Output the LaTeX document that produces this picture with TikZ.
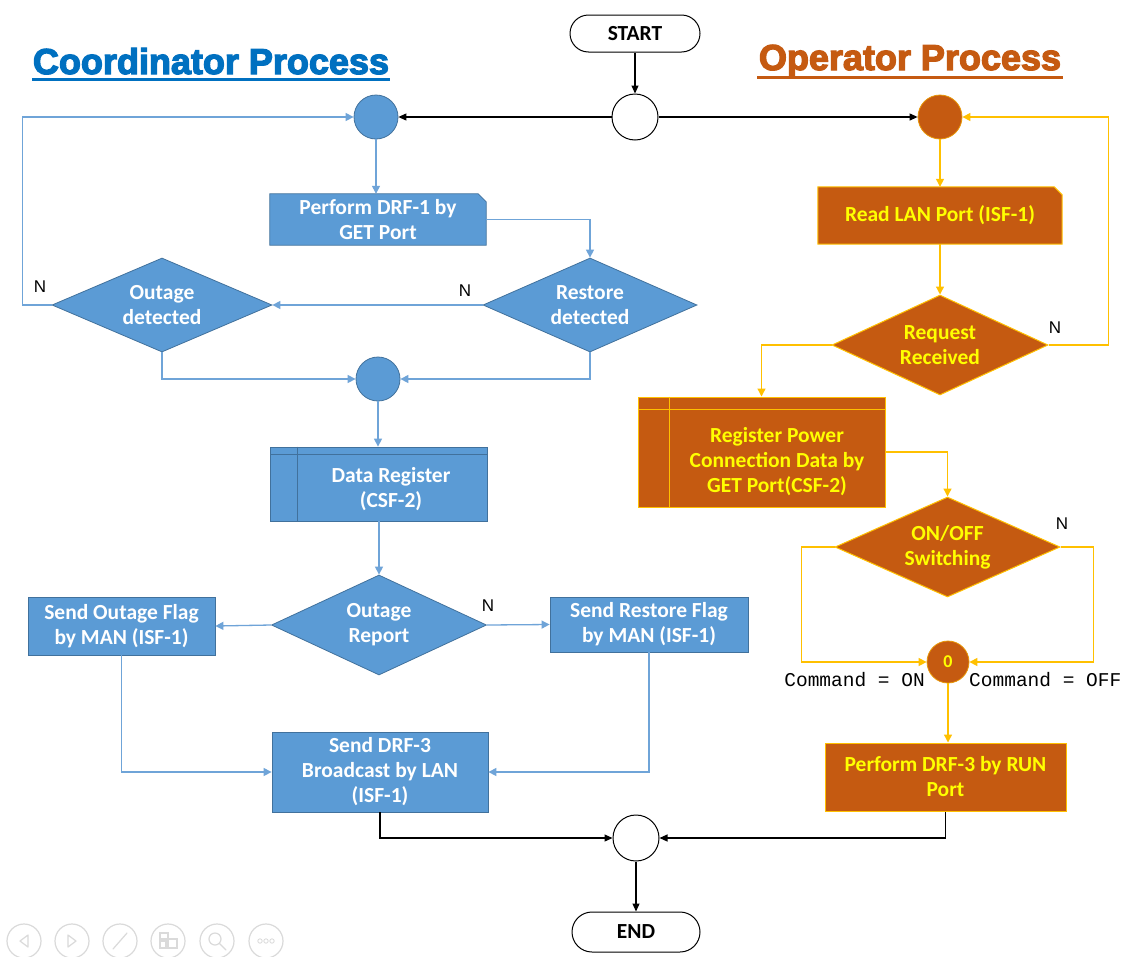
\documentclass[tikz,border=0pt]{standalone}
\usepackage{fontspec}
\setmainfont{Carlito}
\newfontfamily\titlefont[BoldFeatures={FakeBold=3.5}]{Liberation Sans}
\newfontfamily\labelfont{Liberation Sans}
\newfontfamily\codefont{Liberation Mono}
\usetikzlibrary{arrows.meta,shapes.geometric,shapes.misc,backgrounds}

\definecolor{cblue}{HTML}{5B9BD5}
\definecolor{cblueline}{HTML}{41719C}
\definecolor{cbluearrow}{HTML}{6FA4D8}
\definecolor{corange}{HTML}{C55A11}
\definecolor{cgold}{HTML}{FFC000}
\definecolor{cyellow}{HTML}{FFFF00}
\definecolor{ctitleblue}{HTML}{0070C0}
\definecolor{ctitleorange}{HTML}{C55A11}
\definecolor{ciconline}{HTML}{DADADA}

\tikzset{
  boxfont/.style={font=\bfseries\fontsize{21.5}{25}\selectfont, align=center},
  bproc/.style={boxfont, fill=cblue, draw=cblueline, line width=0.8pt, text=white, inner sep=0pt},
  bsnip/.style={boxfont, text=white, inner sep=0pt},
  bdia/.style={boxfont, diamond, aspect=2.2, fill=cblue, draw=cblueline, line width=0.8pt, text=white, inner sep=0pt},
  bdot/.style={circle, fill=cblue, draw=cblueline, line width=0.8pt, minimum size=44pt, inner sep=0pt},
  oproc/.style={boxfont, fill=corange, draw=cgold, line width=1pt, text=cyellow, inner sep=0pt},
  osnip/.style={boxfont, text=cyellow, inner sep=0pt},
  odia/.style={boxfont, diamond, aspect=2.2, fill=corange, draw=cgold, line width=1pt, text=cyellow, inner sep=0pt},
  odot/.style={circle, fill=corange, draw=cgold!60!corange, line width=0.8pt, minimum size=44pt, inner sep=0pt},
  wdot/.style={circle, fill=white, draw=black, line width=1pt, minimum size=46pt, inner sep=0pt},
  term/.style={rounded rectangle, draw=black, line width=1pt, fill=white, font=\bfseries\fontsize{21.5}{25}\selectfont, inner sep=0pt},
  bline/.style={draw=cbluearrow, line width=1.3pt, -{Triangle[length=8pt,width=8pt]}},
  oline/.style={draw=cgold, line width=1.3pt, -{Triangle[length=8pt,width=8pt]}},
  kline/.style={draw=black, line width=1.1pt, -{Triangle[length=8pt,width=7pt]}},
  nlabel/.style={font=\labelfont\fontsize{17}{20}\selectfont, inner sep=0pt},
  cmdlabel/.style={font=\codefont\fontsize{19.5}{22}\selectfont, inner sep=0pt},
  icon/.style={draw=ciconline, line width=1.2pt},
}

\begin{document}
\begin{tikzpicture}[x=1pt,y=-1pt]
\useasboundingbox (0,0) rectangle (1126,956);
\begin{scope}[on background layer]
  \fill[white] (0,0) rectangle (1126,956);
\end{scope}

% ---------- titles ----------
\node[font=\titlefont\bfseries\fontsize{36}{40}\selectfont, text=ctitleblue, anchor=base, inner sep=0pt] (ctitle) at (211,74) {Coordinator Process};
\draw[ctitleblue, line width=3pt] (32,79.5) -- (390,79.5);
\node[font=\titlefont\bfseries\fontsize{36}{40}\selectfont, text=ctitleorange, anchor=base, inner sep=0pt] (otitle) at (910,70) {Operator Process};
\draw[ctitleorange, line width=3pt] (757,77.5) -- (1063,77.5);

% ---------- start / end ----------
\node[term, minimum width=130pt, minimum height=37pt] (start) at (635,33.5) {START};
\node[wdot] (startc) at (635,117) {};
\node[wdot] (endc) at (636,838) {};
\node[term, minimum width=128pt, minimum height=40pt] (finish) at (636,932) {END};

% ---------- coordinator side ----------
\node[bdot] (bc1) at (376,117) {};
\node[bsnip, minimum width=216pt, minimum height=51pt] (drf1) at (378,219.5) {Perform DRF-1 by\\GET Port};
\node[bdia, minimum width=214pt, minimum height=94pt] (restore) at (590,305) {Restore\\detected};
\node[bdia, minimum width=220pt, minimum height=94pt] (outage) at (162,305) {Outage\\detected};
\node[bdot] (bc2) at (378,379) {};
\node[bproc, minimum width=217pt, minimum height=74pt] (dreg) at (379,484) {};
\node[boxfont, text=white, inner sep=0pt] (dregtext) at (391,489) {Data Register\\(CSF-2)};
\node[bdia, minimum width=215pt, minimum height=100pt] (orep) at (379,625) {Outage\\Report};
\node[bproc, minimum width=187pt, minimum height=58pt] (sof) at (121.5,626) {Send Outage Flag\\by MAN (ISF-1)};
\node[bproc, minimum width=198pt, minimum height=55pt] (srf) at (649,624.5) {Send Restore Flag\\by MAN (ISF-1)};
\node[bproc, minimum width=216pt, minimum height=80pt] (drf3b) at (380,772) {Send DRF-3\\Broadcast by LAN\\(ISF-1)};

% snipped-corner and predefined-process outlines
\begin{scope}[on background layer]
  \filldraw[fill=cblue, draw=cblueline, line width=0.8pt]
    (drf1.south west) -- (drf1.north west) -- ([xshift=-8pt]drf1.north east)
    -- ([yshift=-8pt]drf1.north east) -- (drf1.south east) -- cycle;
\end{scope}
\draw[cblueline, line width=0.8pt] ([xshift=27pt]dreg.north west) -- ([xshift=27pt]dreg.south west);
\draw[cblueline, line width=0.8pt] ([yshift=-8pt]dreg.north west) -- ([yshift=-8pt]dreg.north east);

% ---------- operator side ----------
\node[odot] (oc1) at (940,117) {};
\node[osnip, minimum width=244pt, minimum height=57pt] (rlan) at (940,215.5) {Read LAN Port (ISF-1)};
\node[odia, minimum width=216pt, minimum height=100pt] (req) at (940,345) {Request\\Received};
\node[oproc, minimum width=247pt, minimum height=110pt] (reg) at (761.5,452) {};
\node[boxfont, text=cyellow, inner sep=0pt] (regtext) at (777,462) {Register Power\\Connection Data by\\GET Port(CSF-2)};
\node[odia, minimum width=225pt, minimum height=100pt] (onoff) at (947.5,547) {ON/OFF\\Switching};
\node[circle, fill=corange, draw=cgold!60!corange, line width=0.8pt, minimum size=42pt, inner sep=0pt, text=cyellow, font=\bfseries\fontsize{18}{20}\selectfont] (zc) at (948,662) {0};
\node[oproc, minimum width=241pt, minimum height=68pt] (pdrf3) at (945.5,777) {Perform DRF-3 by RUN\\Port};

\begin{scope}[on background layer]
  \filldraw[fill=corange, draw=cgold, line width=1pt]
    (rlan.south west) -- (rlan.north west) -- ([xshift=-8pt]rlan.north east)
    -- ([yshift=-8pt]rlan.north east) -- (rlan.south east) -- cycle;
\end{scope}
\draw[cgold, line width=1pt] ([xshift=32pt]reg.north west) -- ([xshift=32pt]reg.south west);
\draw[cgold, line width=1pt] ([yshift=-13pt]reg.north west) -- ([yshift=-13pt]reg.north east);

% ---------- connectors: main flow ----------
\draw[kline] (start) -- (startc);
\draw[kline] (startc.west) -- (bc1.east);
\draw[kline] (startc.east) -- (oc1.west);
\draw[kline] (drf3b.south) |- (endc.west);
\draw[kline] (pdrf3.south) |- (endc.east);
\draw[kline] (endc) -- (finish);

% ---------- connectors: coordinator ----------
\draw[bline] (bc1) -- (bc1 |- drf1.north);
\draw[bline] (drf1.east) -| (restore.north);
\draw[bline] (restore.west) -- (outage.east);
\node[nlabel] (nrest) at (465,291) {N};
\draw[bline] (outage.west) -- ++(-29,0) |- (bc1.west);
\node[nlabel] (nout) at (40,287) {N};
\draw[bline] (outage.south) |- (bc2.west);
\draw[bline] (restore.south) |- (bc2.east);
\draw[bline] (bc2) -- (bc2 |- dreg.north);
\draw[bline] (dreg.south) -- (orep.north);
\draw[bline] (orep.west) -- (sof.east);
\draw[bline] (orep.east) -- (srf.west);
\node[nlabel] (nrep) at (488,606) {N};
\draw[bline] (sof.south) |- (drf3b.west);
\draw[bline] (srf.south) |- (drf3b.east);

% ---------- connectors: operator ----------
\draw[oline] (oc1) -- (oc1 |- rlan.north);
\draw[oline] (rlan.south) -- (req.north);
\draw[oline] (req.east) -- ++(60,0) |- (oc1.east);
\node[nlabel] (nreq) at (1055,328) {N};
\draw[oline] (req.west) -| (reg.north);
\draw[oline] (reg.east) -| (onoff.north);
\draw[oline] (onoff.west) -- ++(-33,0) |- (zc.west);
\draw[oline] (onoff.east) -- ++(33,0) |- (zc.east);
\node[nlabel] (nsw) at (1062,524) {N};
\draw[oline] (zc) -- (zc |- pdrf3.north);
\node[cmdlabel, anchor=base east] (con) at (925,686) {Command = ON};
\node[cmdlabel, anchor=base west] (coff) at (969,686) {Command = OFF};

% ---------- slide controls, bottom left ----------
\foreach \cx in {24,72,120,168,217,266} {
  \draw[icon] (\cx,941) circle (17);
}
\draw[icon, line join=round] (28,935) -- (20,941) -- (28,947) -- cycle;
\draw[icon, line join=round] (68,935) -- (76,941) -- (68,947) -- cycle;
\draw[icon, line cap=round] (113,949) -- (127,933);
\draw[icon] (160,933) rectangle (168,939);
\draw[icon] (160,941) rectangle (166,948);
\draw[icon] (168,939) rectangle (177,948);
\draw[icon] (215,939) circle (6);
\draw[icon, line cap=round] (219.5,943.5) -- (226,950);
\foreach \dx in {-6,0,6} { \draw[icon, line width=0.8pt] (266+\dx,941) circle (2.2); }
\end{tikzpicture}
\end{document}
